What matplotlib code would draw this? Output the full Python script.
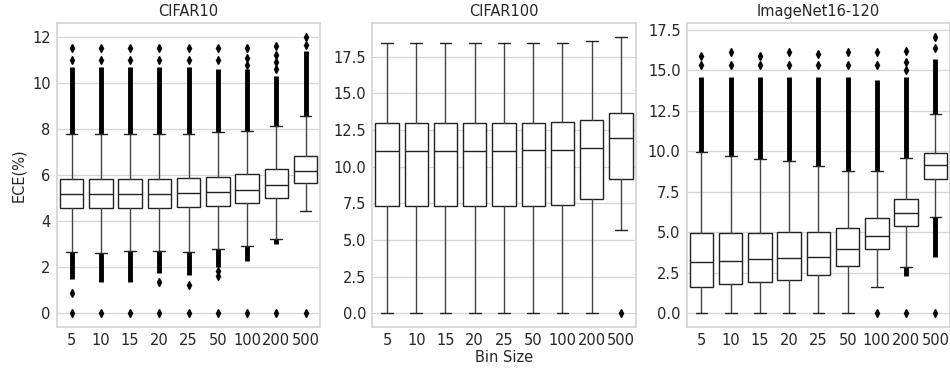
import numpy as np
import matplotlib
matplotlib.use("Agg")
import matplotlib.pyplot as plt
import seaborn as sns

sns.set_theme(style="whitegrid")
plt.rcParams['font.family'] = ['DejaVu Sans']

bins = ["5", "10", "15", "20", "25", "50", "100", "200", "500"]
datasets = ["CIFAR10", "CIFAR100", "ImageNet16-120"]

# box statistics (ECE in %)
c10_med = [5.19, 5.19, 5.19, 5.19, 5.22, 5.26, 5.36, 5.55, 6.16]
c10_q1 = [4.57, 4.57, 4.57, 4.57, 4.61, 4.67, 4.78, 5.00, 5.65]
c10_q3 = [5.84, 5.84, 5.84, 5.84, 5.87, 5.94, 6.04, 6.26, 6.83]
c10_lo = [2.68, 2.64, 2.72, 2.70, 2.68, 2.78, 2.94, 3.22, 4.46]
c10_hi = [7.78, 7.78, 7.78, 7.80, 7.80, 7.87, 7.90, 8.12, 8.55]
# dense runs of outliers (from, to) and single outliers
c10_bands = [[(7.78, 10.7), (2.68, 1.5)], [(7.78, 10.7), (2.64, 1.35)],
             [(7.78, 10.7), (2.72, 1.35)], [(7.80, 10.7), (2.70, 1.75)],
             [(7.80, 10.7), (2.68, 1.65)], [(7.87, 10.6), (2.78, 2.0)],
             [(7.90, 10.6), (2.94, 2.25)], [(8.12, 10.3), (3.22, 3.0)],
             [(8.55, 11.4)]]
c10_single = [[0.0, 0.9, 11.0, 11.52], [0.0, 11.0, 11.52], [0.0, 11.0, 11.52],
              [0.0, 1.38, 11.0, 11.52], [0.0, 1.25, 11.0, 11.52],
              [0.0, 1.62, 1.85, 11.0, 11.52], [0.0, 10.8, 11.1, 11.52],
              [0.0, 10.6, 10.9, 11.2, 11.62], [0.0, 11.65, 12.0]]

c100_med = [11.05, 11.05, 11.05, 11.05, 11.05, 11.10, 11.16, 11.26, 11.96]
c100_q1 = [7.29, 7.29, 7.29, 7.29, 7.29, 7.29, 7.38, 7.77, 9.16]
c100_q3 = [12.96, 12.96, 12.96, 12.96, 12.96, 12.96, 13.06, 13.19, 13.67]
c100_lo = [0.0, 0.0, 0.0, 0.0, 0.0, 0.0, 0.0, 0.0, 5.65]
c100_hi = [18.46, 18.46, 18.46, 18.46, 18.46, 18.46, 18.46, 18.55, 18.84]
c100_bands = [[] for _ in bins]
c100_single = [[], [], [], [], [], [], [], [], [0.0]]

inet_med = [3.19, 3.25, 3.34, 3.40, 3.48, 3.95, 4.76, 6.18, 9.16]
inet_q1 = [1.63, 1.81, 1.96, 2.06, 2.35, 2.94, 3.95, 5.39, 8.30]
inet_q3 = [4.94, 4.98, 4.98, 5.00, 5.04, 5.25, 5.85, 7.04, 9.88]
inet_lo = [0.0, 0.0, 0.0, 0.0, 0.0, 0.0, 1.61, 2.88, 5.93]
inet_hi = [9.94, 9.72, 9.51, 9.41, 9.06, 8.77, 8.77, 9.57, 12.29]
inet_bands = [[(9.94, 14.6)], [(9.72, 14.6)], [(9.51, 14.6)], [(9.41, 14.6)],
              [(9.06, 14.6)], [(8.77, 14.6)], [(8.77, 14.4)],
              [(9.57, 14.6), (2.88, 2.3)], [(12.29, 15.7), (5.93, 3.5)]]
inet_single = [[15.3, 15.9], [15.3, 16.1], [15.3, 15.9], [15.3, 16.1],
               [15.3, 16.0], [15.3, 16.1], [0.0, 15.3, 16.1],
               [0.0, 15.0, 15.5, 16.2], [0.0, 16.35, 17.05]]

stats = [
    (c10_med, c10_q1, c10_q3, c10_lo, c10_hi, c10_bands, c10_single),
    (c100_med, c100_q1, c100_q3, c100_lo, c100_hi, c100_bands, c100_single),
    (inet_med, inet_q1, inet_q3, inet_lo, inet_hi, inet_bands, inet_single),
]

fig = plt.figure(figsize=(9.5, 3.73), dpi=100)
lefts = [0.060, 0.392, 0.723]
axes = [fig.add_axes([l, 0.123, 0.277, 0.815]) for l in lefts]

for ax, name, (med, q1, q3, lo, hi, bands, single) in zip(axes, datasets, stats):
    box_stats = []
    for i in range(len(bins)):
        box_stats.append(dict(med=med[i], q1=q1[i], q3=q3[i],
                              whislo=lo[i], whishi=hi[i],
                              fliers=np.array(single[i])))
    pos = np.arange(len(bins))
    ax.bxp(box_stats, positions=pos, widths=0.8, patch_artist=True,
           boxprops=dict(facecolor="white", edgecolor="#222222", linewidth=1.0),
           medianprops=dict(color="#222222", linewidth=1.0),
           whiskerprops=dict(color="#444444", linewidth=1.0),
           capprops=dict(color="#222222", linewidth=1.0),
           flierprops=dict(marker="d", markerfacecolor="black",
                           markeredgecolor="black", markersize=4.2))
    for i, bl in enumerate(bands):
        for a, b in bl:
            ax.vlines(pos[i], a, b, color="black", linewidth=3.5, zorder=1.5)
    ax.set_xlim(-0.5, len(bins) - 0.5)
    ax.set_xticks(pos)
    ax.set_xticklabels(bins)
    ax.set_title(name, fontsize=10.5, pad=5)
    ax.tick_params(labelsize=10.5, pad=4.5, length=0)
    ax.grid(axis="x", visible=False)
    ax.grid(axis="y", color="#d5d5d5", linewidth=0.9)
    ax.margins(y=0.05)
    for s in ax.spines.values():
        s.set_color("#d5d5d5")

axes[0].set_ylabel("ECE(%)", fontsize=10.5)
axes[1].set_xlabel("Bin Size", fontsize=10.5, labelpad=1)
axes[1].set_yticks([0, 2.5, 5, 7.5, 10, 12.5, 15, 17.5])
axes[2].set_yticks([0, 2.5, 5, 7.5, 10, 12.5, 15, 17.5])

fig.savefig("out.png", dpi=100)
